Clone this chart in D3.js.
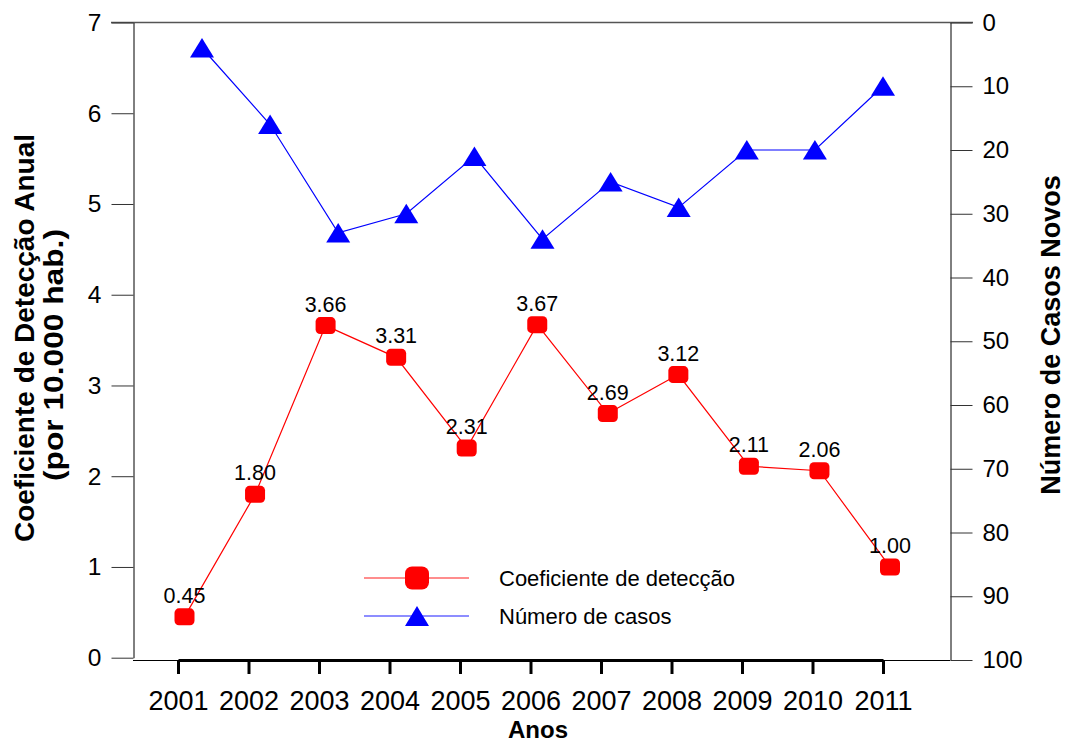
<!DOCTYPE html>
<html>
<head>
<meta charset="utf-8">
<script src="https://cdn.jsdelivr.net/npm/d3@7/dist/d3.min.js"></script>
<style>
  html, body { margin: 0; padding: 0; background: #fff; }
  svg { display: block; font-family: "Liberation Sans", Arial, sans-serif; }
</style>
</head>
<body>
<svg id="chart" width="1070" height="743"></svg>
<script>
// ---- data ----
const years = [2001, 2002, 2003, 2004, 2005, 2006, 2007, 2008, 2009, 2010, 2011];
const coeficiente = [0.45, 1.80, 3.66, 3.31, 2.31, 3.67, 2.69, 3.12, 2.11, 2.06, 1.00];
const casos = [4, 16, 33, 30, 21, 34, 25, 29, 20, 20, 10];
const leftTicks = [0, 1, 2, 3, 4, 5, 6, 7];
const rightTicks = [0, 10, 20, 30, 40, 50, 60, 70, 80, 90, 100];
const legendLabels = ["Coeficiente de detecção", "Número de casos"];
const leftTitle = ["Coeficiente de Detecção Anual", "(por 10.000 hab.)"];
const rightTitle = "Número de Casos Novos";
const xTitle = "Anos";

// ---- layout ----
const svg = d3.select("#chart");
const plotL = 133, plotR = 950, plotT = 22.5, plotB = 660;

const yL = d3.scaleLinear().domain([0, 7]).range([657.7, plotT]);
const yR = d3.scaleLinear().domain([0, 100]).range([plotT, plotB]);
const xTick = d3.scaleLinear().domain([2001, 2011]).range([178, 883]);
const xRed = d3.scaleLinear().domain([2001, 2011]).range([184.5, 890]);
const xBlue = d3.scaleLinear().domain([2001, 2011]).range([202, 883]);

const RED = "#ff0000", BLUE = "#0000ff";

// top border
svg.append("line").attr("x1", 111).attr("x2", 973)
  .attr("y1", plotT).attr("y2", plotT)
  .attr("stroke", "#555").attr("stroke-width", 1.3);

// bottom thin border
svg.append("line").attr("x1", plotL).attr("x2", plotR)
  .attr("y1", plotB + 0.5).attr("y2", plotB + 0.5)
  .attr("stroke", "#000").attr("stroke-width", 1);

// left axis
const gL = svg.append("g").attr("transform", `translate(${plotL + 0.5},0)`)
  .call(d3.axisLeft(yL).tickValues(leftTicks).tickFormat(d3.format("d"))
    .tickSize(22).tickSizeOuter(0).tickPadding(10));
gL.select(".domain").attr("stroke", "#000");
gL.selectAll(".tick line").attr("stroke", "#333");
gL.selectAll(".tick text").attr("font-size", 24.5).attr("fill", "#000")
  .attr("font-family", "Liberation Sans, Arial, sans-serif");

// right axis
const gR = svg.append("g").attr("transform", `translate(${plotR + 0.5},0)`)
  .call(d3.axisRight(yR).tickValues(rightTicks).tickFormat(d3.format("d"))
    .tickSize(22).tickSizeOuter(0).tickPadding(10));
gR.select(".domain").attr("stroke", "#000");
gR.selectAll(".tick line").attr("stroke", "#333");
gR.selectAll(".tick text").attr("font-size", 24).attr("fill", "#000")
  .attr("font-family", "Liberation Sans, Arial, sans-serif");

// bottom thick axis
const gX = svg.append("g").attr("transform", `translate(0,${plotB})`)
  .call(d3.axisBottom(xTick).tickValues(years).tickFormat(d3.format("d"))
    .tickSize(14).tickSizeOuter(0).tickPadding(0));
gX.select(".domain").attr("stroke", "#000").attr("stroke-width", 3);
gX.selectAll(".tick line").attr("stroke", "#000").attr("stroke-width", 3);
gX.selectAll(".tick text").attr("font-size", 27).attr("fill", "#000")
  .attr("y", 50).attr("dy", 0)
  .attr("font-family", "Liberation Sans, Arial, sans-serif");

// blue series (Número de casos)
const blueLine = d3.line().x((d, i) => xBlue(years[i])).y(d => yR(d));
svg.append("path").datum(casos).attr("d", blueLine)
  .attr("fill", "none").attr("stroke", BLUE).attr("stroke-width", 1.2);
const triPath = "M0,-10L12,9.5L-12,9.5Z";
svg.append("g").selectAll("path").data(casos).join("path")
  .attr("d", triPath)
  .attr("transform", (d, i) => `translate(${xBlue(years[i])},${yR(d)})`)
  .attr("fill", BLUE);

// red series (coeficiente)
const redLine = d3.line().x((d, i) => xRed(years[i])).y(d => yL(d));
svg.append("path").datum(coeficiente).attr("d", redLine)
  .attr("fill", "none").attr("stroke", RED).attr("stroke-width", 1.2);
svg.append("g").selectAll("rect").data(coeficiente).join("rect")
  .attr("x", (d, i) => xRed(years[i]) - 10)
  .attr("y", d => yL(d) - 8.5)
  .attr("width", 20).attr("height", 17).attr("rx", 4.5)
  .attr("fill", RED);

// data labels
svg.append("g").selectAll("text").data(coeficiente).join("text")
  .attr("x", (d, i) => xRed(years[i]))
  .attr("y", d => yL(d) - 14)
  .attr("text-anchor", "middle")
  .attr("font-size", 21.5)
  .attr("fill", "#000")
  .text(d => d3.format(".2f")(d));

// legend
const lg = svg.append("g");
const legY = [578, 616];
lg.append("line").attr("x1", 364).attr("x2", 469).attr("y1", legY[0]).attr("y2", legY[0])
  .attr("stroke", RED).attr("stroke-width", 1.5).attr("stroke-opacity", 0.6);
lg.append("rect").attr("x", 417 - 12).attr("y", legY[0] - 11.5)
  .attr("width", 24).attr("height", 23).attr("rx", 7).attr("fill", RED);
lg.append("line").attr("x1", 364).attr("x2", 469).attr("y1", legY[1]).attr("y2", legY[1])
  .attr("stroke", BLUE).attr("stroke-width", 1.5).attr("stroke-opacity", 0.6);
lg.append("path").attr("d", "M0,-10L12,10L-12,10Z")
  .attr("transform", `translate(417,${legY[1]})`).attr("fill", BLUE);
lg.selectAll("text.leg").data(legendLabels).join("text").attr("class", "leg")
  .attr("x", 499).attr("y", (d, i) => legY[i] + 8)
  .attr("font-size", 22).attr("fill", "#000")
  .text(d => d);

// titles
svg.append("text")
  .attr("transform", "translate(34,338) rotate(-90)")
  .attr("text-anchor", "middle").attr("font-size", 27).attr("font-weight", "bold")
  .attr("textLength", 408).attr("lengthAdjust", "spacingAndGlyphs")
  .text(leftTitle[0]);
svg.append("text")
  .attr("transform", "translate(63,355) rotate(-90)")
  .attr("text-anchor", "middle").attr("font-size", 27).attr("font-weight", "bold")
  .attr("textLength", 252).attr("lengthAdjust", "spacingAndGlyphs")
  .text(leftTitle[1]);
svg.append("text")
  .attr("transform", "translate(1060,335) rotate(-90)")
  .attr("text-anchor", "middle").attr("font-size", 27).attr("font-weight", "bold")
  .text(rightTitle);
svg.append("text")
  .attr("x", 538).attr("y", 738)
  .attr("text-anchor", "middle").attr("font-size", 24).attr("font-weight", "bold")
  .text(xTitle);
</script>
</body>
</html>
